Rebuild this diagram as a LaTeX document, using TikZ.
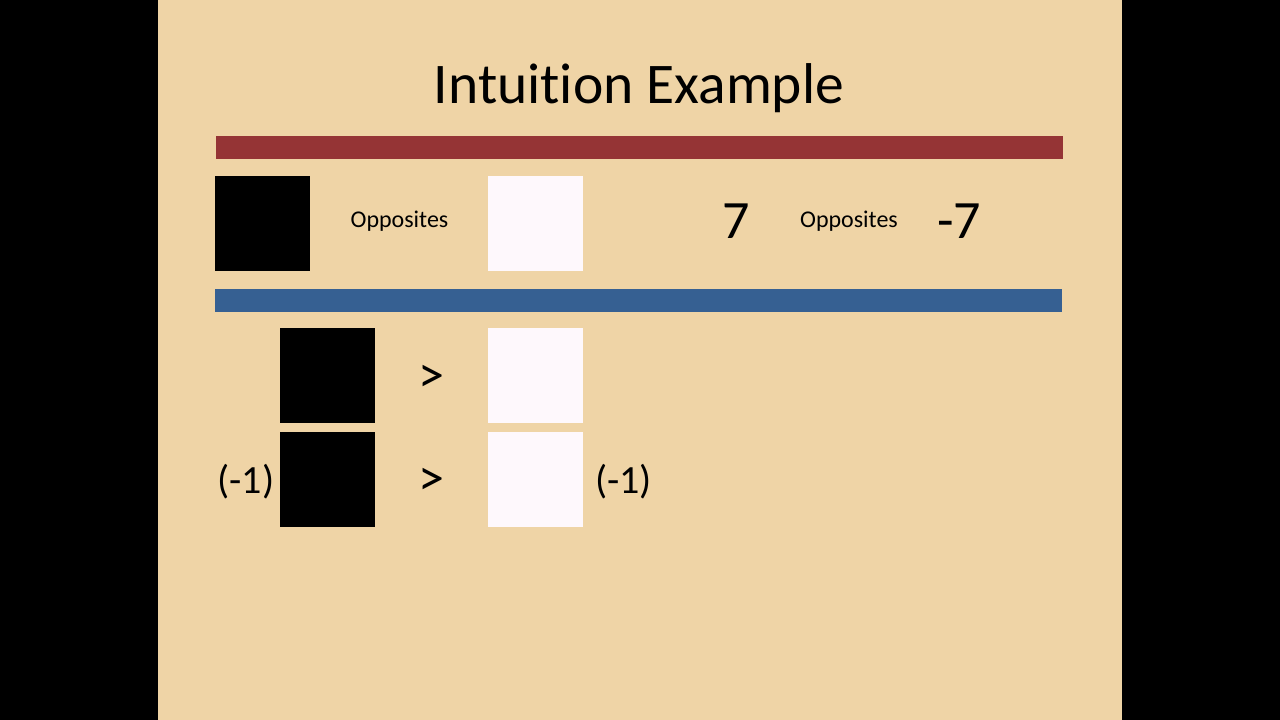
\documentclass[tikz,border=0pt]{standalone}
\usepackage{fontspec}
\setmainfont{Carlito}[Ligatures=NoCommon]
\definecolor{papyrus}{RGB}{239,212,166}
\definecolor{barred}{RGB}{149,52,53}
\definecolor{barblue}{RGB}{54,96,146}
\definecolor{offwhite}{RGB}{254,248,252}
\tikzset{
  sq/.style={minimum width=95pt, minimum height=95pt, inner sep=0pt, outer sep=0pt},
  blacksq/.style={sq, fill=black},
  whitesq/.style={sq, fill=offwhite},
  bar/.style={inner sep=0pt, outer sep=0pt, minimum width=847pt, minimum height=23pt},
  small/.style={font=\fontsize{24}{28}\selectfont, inner sep=0pt, anchor=base},
  big/.style={font=\fontsize{40}{46}\selectfont, inner sep=0pt, anchor=base},
  num/.style={font=\fontsize{54}{60}\selectfont, inner sep=0pt, anchor=base},
  gtsign/.style={font=\fontsize{52}{60}\selectfont, inner sep=0pt},
}
\begin{document}
\begin{tikzpicture}[x=1pt,y=-1pt]
\useasboundingbox (0,0) rectangle (1280,720);
\fill[black] (0,0) rectangle (1280,720);
\fill[papyrus] (158,0) rectangle (1122,720);

\node[font=\fontsize{57.5}{62}\selectfont, inner sep=0pt, anchor=base] (title) at (639,103) {Intuition Example};

\node[bar, fill=barred] (redbar) at (639.5,147.5) {};
\node[bar, fill=barblue] (bluebar) at (638.5,300) {};

% row 1
\node[blacksq] (b1) at (262.5,223.5) {};
\node[small] (opp1) at (399.5,227) {Opposites};
\node[whitesq] (w1) at (535.5,223.5) {};
\node[num] (seven) at (736,238) {7};
\node[small] (opp2) at (849,227) {Opposites};
\node[num] (mseven) at (959,238) {-7};

% row 2
\node[blacksq] (b2) at (327,375.5) {};
\node[gtsign] (gt1) at (431,379) {>};
\node[whitesq] (w2) at (535.5,375.5) {};

% row 3
\node[big] (m1a) at (246,493) {(-1)};
\node[blacksq] (b3) at (327,479.5) {};
\node[gtsign] (gt2) at (431,482) {>};
\node[whitesq] (w3) at (535.5,479.5) {};
\node[big] (m1b) at (623.5,493) {(-1)};
\end{tikzpicture}
\end{document}
